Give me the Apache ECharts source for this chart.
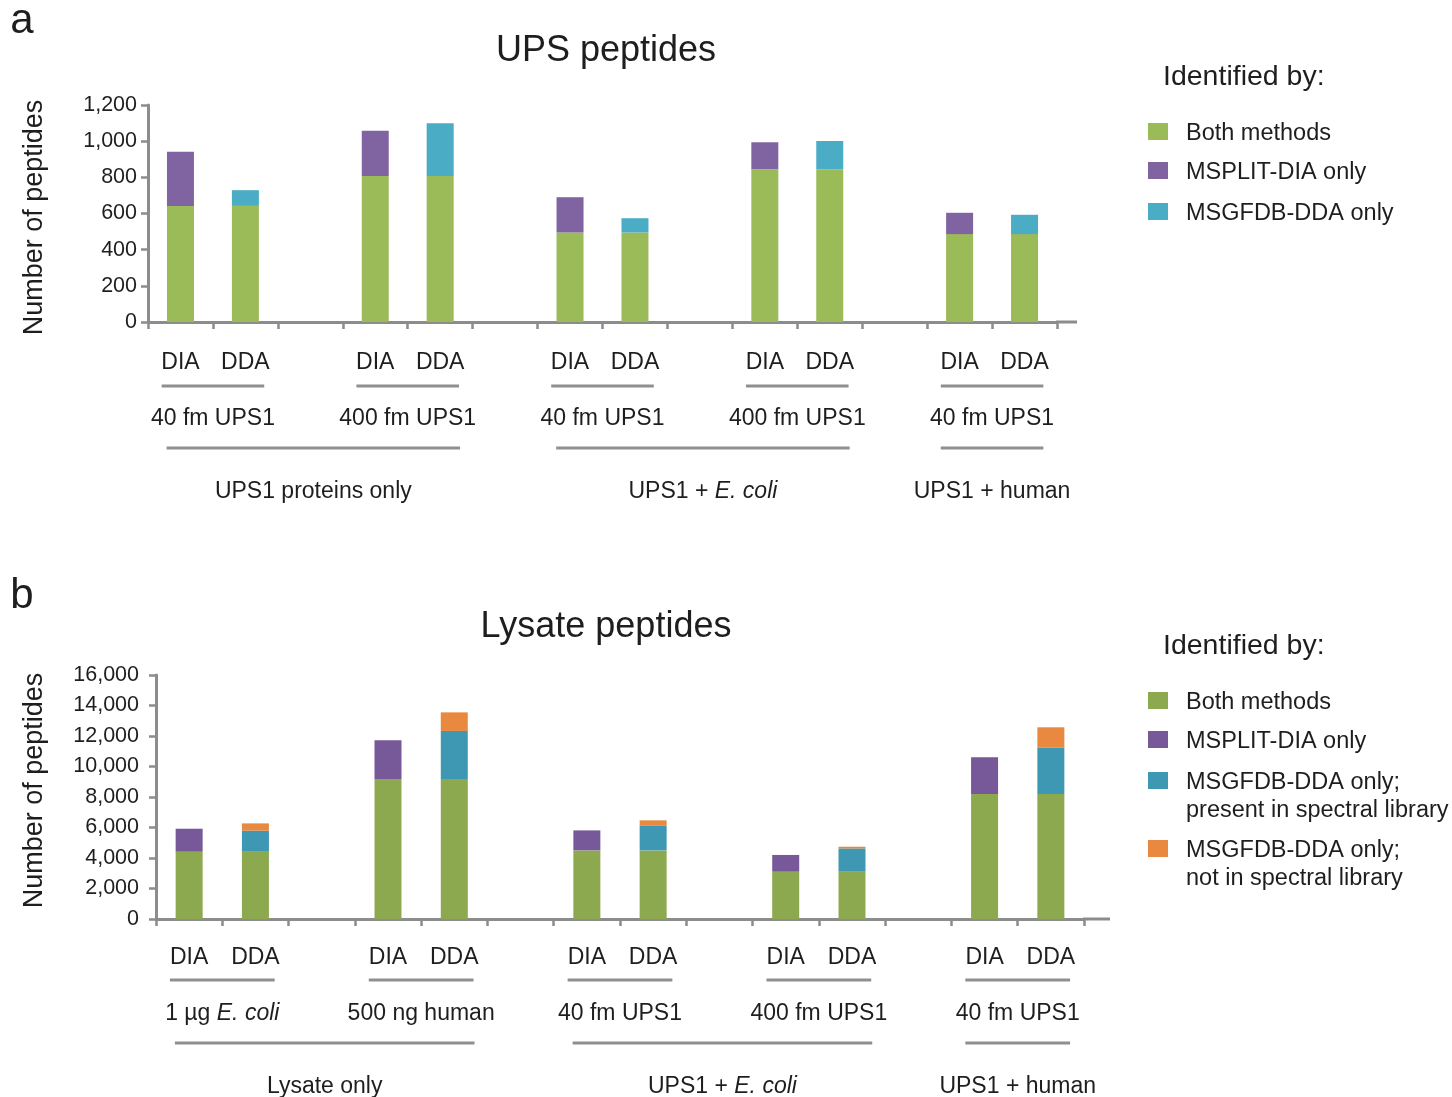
<!DOCTYPE html>
<html>
<head>
<meta charset="utf-8">
<script src="https://cdn.jsdelivr.net/npm/echarts@6/dist/echarts.min.js"></script>
<style>
  html, body { margin: 0; padding: 0; background: #fff; }
  #chart { width: 1452px; height: 1097px; }
</style>
</head>
<body>
<div id="chart"></div>
<script>
// ---- Panel a: UPS peptides ----
const upsGroups = ['40 fm UPS1', '400 fm UPS1', '40 fm UPS1', '400 fm UPS1', '40 fm UPS1'];
const upsBoth = [642, 808, 495, 845, 486];
const upsDiaOnly = [300, 250, 195, 149, 118];
const upsDdaOnly = [87, 291, 79, 156, 107];
const upsSets = ['UPS1 proteins only', 'UPS1 + E. coli', 'UPS1 + human'];
const upsSetSpans = [[0, 1], [2, 3], [4, 4]];
const upsTicks = [0, 200, 400, 600, 800, 1000, 1200];

// ---- Panel b: Lysate peptides ----
const lysGroups = ['1 µg E. coli', '500 ng human', '40 fm UPS1', '400 fm UPS1', '40 fm UPS1'];
const lysBoth = [4410, 9180, 4500, 3100, 8200];
const lysDiaOnly = [1510, 2540, 1310, 1100, 2400];
const lysDdaLib = [1380, 3150, 1640, 1530, 3040];
const lysDdaNoLib = [480, 1220, 330, 110, 1330];
const lysSets = ['Lysate only', 'UPS1 + E. coli', 'UPS1 + human'];
const lysSetSpans = [[0, 1], [2, 3], [4, 4]];
const lysTicks = [0, 2000, 4000, 6000, 8000, 10000, 12000, 14000, 16000];

const methods = ['DIA', 'DDA'];
const legendA = ['Both methods', 'MSPLIT-DIA only', 'MSGFDB-DDA only'];
const legendB = ['Both methods', 'MSPLIT-DIA only', 'MSGFDB-DDA only;\npresent in spectral library', 'MSGFDB-DDA only;\nnot in spectral library'];

const colorsA = ['#9BBB59', '#8064A2', '#4BACC6'];
const colorsB = ['#8DA94F', '#77599A', '#3F98B3', '#E8893F'];

const FONT = '"Liberation Sans", Arial, Helvetica, sans-serif';
const TEXT = '#1e1e1e';
const AXIS = '#8c8c8c';

// Category list: DIA, DDA for each group, with an empty spacer between groups
function buildCats(groups) {
  const cats = [];
  groups.forEach((g, i) => {
    methods.forEach(m => cats.push(i + '|' + m));
    if (i < groups.length - 1) cats.push('gap' + i);
  });
  return cats;
}
// Spread per-group values onto the category slots: which = 'both' | 0 (DIA) | 1 (DDA)
function spread(values, which) {
  const out = [];
  values.forEach((v, i) => {
    out.push(which === 'both' || which === 0 ? v : null);
    out.push(which === 'both' || which === 1 ? v : null);
    if (i < values.length - 1) out.push(null);
  });
  return out;
}

const catsA = buildCats(upsGroups);
const catsB = buildCats(lysGroups);

function xAxisCfg(cats, gridIndex, margin) {
  return {
    type: 'category', gridIndex, data: cats,
    axisLine: { lineStyle: { color: AXIS, width: 3 } },
    axisTick: { show: true, length: 7, lineStyle: { color: AXIS, width: 2.5 } },
    axisLabel: {
      interval: 0, margin, color: TEXT, fontFamily: FONT, fontSize: 23,
      formatter: v => (v.indexOf('|') >= 0 ? v.split('|')[1] : '')
    },
    splitLine: { show: false }
  };
}
function yAxisCfg(ticks, gridIndex, margin) {
  return {
    type: 'value', gridIndex,
    min: ticks[0], max: ticks[ticks.length - 1], interval: ticks[1] - ticks[0],
    axisLine: { show: true, lineStyle: { color: AXIS, width: 3 } },
    axisTick: { show: true, length: 7, lineStyle: { color: AXIS, width: 2.5 } },
    axisLabel: {
      margin, color: TEXT, fontFamily: FONT, fontSize: 21.5,
      formatter: v => v.toLocaleString('en-US')
    },
    splitLine: { show: false }
  };
}
function barSeries(name, data, color, stack, axisIndex) {
  return {
    type: 'bar', name, data, stack, barWidth: 27,
    xAxisIndex: axisIndex, yAxisIndex: axisIndex,
    itemStyle: { color }, emphasis: { disabled: true }, silent: true
  };
}

const chart = echarts.init(document.getElementById('chart'), null, { renderer: 'canvas' });

chart.setOption({
  animation: false,
  backgroundColor: '#fff',
  grid: [
    { left: 148, right: 1452 - 1057, top: 105, bottom: 1097 - 322 },
    { left: 156, right: 1452 - 1084, top: 675, bottom: 1097 - 919 }
  ],
  xAxis: [xAxisCfg(catsA, 0, 29), xAxisCfg(catsB, 1, 27)],
  yAxis: [yAxisCfg(upsTicks, 0, 11), yAxisCfg(lysTicks, 1, 17)],
  series: [
    barSeries(legendA[0], spread(upsBoth, 'both'), colorsA[0], 'a', 0),
    barSeries(legendA[1], spread(upsDiaOnly, 0), colorsA[1], 'a', 0),
    barSeries(legendA[2], spread(upsDdaOnly, 1), colorsA[2], 'a', 0),
    barSeries(legendB[0], spread(lysBoth, 'both'), colorsB[0], 'b', 1),
    barSeries(legendB[1], spread(lysDiaOnly, 0), colorsB[1], 'b', 1),
    barSeries(legendB[2], spread(lysDdaLib, 1), colorsB[2], 'b', 1),
    barSeries(legendB[3], spread(lysDdaNoLib, 1), colorsB[3], 'b', 1)
  ]
});

// ---- Annotations placed from the axes' own pixel mapping ----
// small downward nudge so text sits on its optical centre
const TY = 2.5;
function txt(text, x, y, size, opts) {
  opts = opts || {};
  y += TY;
  const hasItalic = text.indexOf('E. coli') >= 0;
  const style = {
    x: 0, y: 0, fill: TEXT, fontFamily: FONT, fontSize: size,
    align: opts.align || 'center', verticalAlign: 'middle'
  };
  if (hasItalic) {
    const parts = text.split('E. coli');
    let rt = '';
    if (parts[0]) rt += '{n|' + parts[0] + '}';
    rt += '{i|E. coli}';
    if (parts[1]) rt += '{n|' + parts[1] + '}';
    style.text = rt;
    style.rich = {
      n: { fontFamily: FONT, fontSize: size, fill: TEXT, color: TEXT },
      i: { fontFamily: FONT, fontSize: size, fontStyle: 'italic', fill: TEXT, color: TEXT }
    };
  } else {
    style.text = text;
  }
  return { type: 'text', silent: true, rotation: opts.rotation || 0, x, y, style };
}
function hline(x1, x2, y, width, color) {
  return { type: 'line', silent: true, shape: { x1, y1: y, x2, y2: y },
           style: { stroke: color || '#8f8f8f', lineWidth: width || 3 } };
}
function rect(x, y, w, h, color) {
  return { type: 'rect', silent: true, shape: { x, y, width: w, height: h }, style: { fill: color } };
}

function panelAnnotations(axisIndex, groups, sets, spans, rows, ext) {
  const px = i => chart.convertToPixel({ xAxisIndex: axisIndex }, i);
  const py = v => chart.convertToPixel({ yAxisIndex: axisIndex }, v);
  const catW = px(1) - px(0);
  const axisY = py(0);
  const els = [];
  // axis line carried a little past the last category
  const endX = px(groups.length * 3 - 2) + catW / 2;
  els.push(hline(endX - 1, endX + ext, axisY, 3, AXIS));
  groups.forEach((g, i) => {
    const cx = (px(3 * i) + px(3 * i + 1)) / 2;
    els.push(hline(cx - 0.79 * catW, cx + 0.79 * catW, axisY + rows.short));
    els.push(txt(g, cx, axisY + rows.group, 23));
  });
  sets.forEach((s, k) => {
    const [a, b] = spans[k];
    const cx = (px(3 * a) + px(3 * b + 1)) / 2 + (a === b ? 0 : 3);
    const half = a === b ? 0.79 * catW : 2.26 * catW;
    els.push(hline(cx - half, cx + half, axisY + rows.long));
    els.push(txt(s, cx, axisY + rows.set, 23));
  });
  return els;
}

function legendBlock(x, titleY, rowsY, labels, colors) {
  const els = [txt('Identified by:', x + 15, titleY, 28.5, { align: 'left' })];
  labels.forEach((l, i) => {
    els.push(rect(x, rowsY[i] - 8, 20, 17, colors[i]));
    l.split('\n').forEach((line, j) => {
      els.push(txt(line, x + 38, rowsY[i] + j * 28.5, 23.5, { align: 'left' }));
    });
  });
  return els;
}

const graphics = [].concat(
  [txt('a', 22, 19, 42), txt('b', 22, 594, 42)],
  [txt('UPS peptides', 606, 49, 36), txt('Lysate peptides', 606, 625, 36)],
  [txt('Number of peptides', 35, 215, 27, { rotation: Math.PI / 2 }),
   txt('Number of peptides', 35, 788, 27, { rotation: Math.PI / 2 })],
  panelAnnotations(0, upsGroups, upsSets, upsSetSpans, { short: 64, group: 94, long: 126, set: 167 }, 20),
  panelAnnotations(1, lysGroups, lysSets, lysSetSpans, { short: 61, group: 92, long: 124, set: 165 }, 26),
  legendBlock(1148, 75, [131, 170, 211], legendA, colorsA),
  legendBlock(1148, 644, [700, 739, 780, 848], legendB, colorsB)
);

chart.setOption({ graphic: { elements: graphics } });
</script>
</body>
</html>
